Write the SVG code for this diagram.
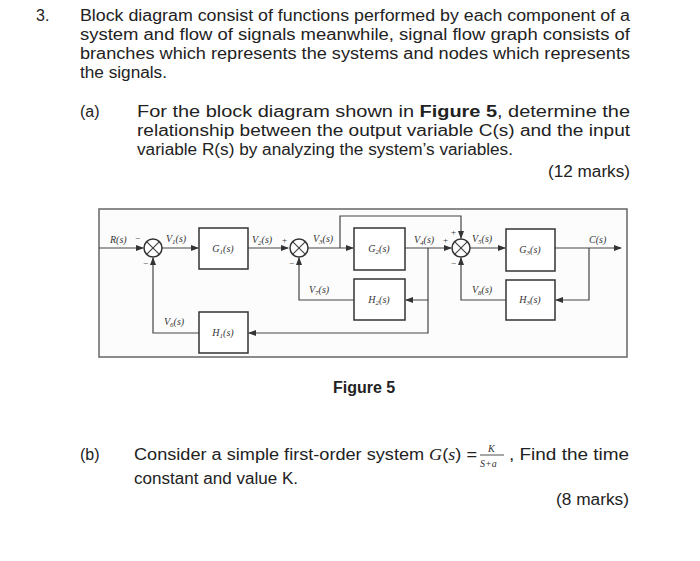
<svg xmlns="http://www.w3.org/2000/svg" width="700" height="561" viewBox="0 0 700 561">
<defs>
<marker id="ar" markerWidth="8" markerHeight="6" refX="7" refY="3" orient="auto" markerUnits="userSpaceOnUse"><path d="M0,0 L8,3 L0,6 Z" fill="#333"/></marker>
<style>
.t{font-family:"Liberation Sans",Arial,sans-serif;font-size:16px;fill:#222}
.b{font-weight:bold}
.l{font-family:"Liberation Serif","Times New Roman",serif;font-style:italic;font-size:10px;fill:#333}
.s{font-family:"Liberation Serif",serif;font-size:9px;fill:#333}
.box{fill:#fff;stroke:#333;stroke-width:1.5}
.w{fill:none;stroke:#444;stroke-width:1.2}
.sum{fill:#fff;stroke:#333;stroke-width:1.5}
</style>
</defs>
<rect width="700" height="561" fill="#fff"/>
<g id="text">
<text class="t" x="36" y="21">3.</text>
<text class="t" x="80" y="21" textLength="550" lengthAdjust="spacingAndGlyphs">Block diagram consist of functions performed by each component of a</text>
<text class="t" x="80" y="40" textLength="550" lengthAdjust="spacingAndGlyphs">system and flow of signals meanwhile, signal flow graph consists of</text>
<text class="t" x="80" y="59" textLength="550" lengthAdjust="spacingAndGlyphs">branches which represents the systems and nodes which represents</text>
<text class="t" x="80" y="78" textLength="87" lengthAdjust="spacingAndGlyphs">the signals.</text>
<text class="t" x="80" y="117">(a)</text>
<text class="t" x="137" y="117" textLength="493" lengthAdjust="spacingAndGlyphs">For the block diagram shown in <tspan class="b">Figure 5</tspan>, determine the</text>
<text class="t" x="137" y="136" textLength="493" lengthAdjust="spacingAndGlyphs">relationship between the output variable C(s) and the input</text>
<text class="t" x="137" y="155" textLength="376" lengthAdjust="spacingAndGlyphs">variable R(s) by analyzing the system’s variables.</text>
<text class="t" x="548" y="177" textLength="82" lengthAdjust="spacingAndGlyphs">(12 marks)</text>
<text class="t b" x="333" y="393">Figure 5</text>
<text class="t" x="80" y="460">(b)</text>
<text class="t" x="134" y="460" textLength="343" lengthAdjust="spacingAndGlyphs">Consider a simple first-order system <tspan font-family="Liberation Serif" font-style="italic">G</tspan>(<tspan font-family="Liberation Serif" font-style="italic">s</tspan>) =</text>
<text class="l" x="488" y="452" font-size="10">K</text>
<line x1="480" y1="455" x2="504" y2="455" stroke="#222" stroke-width="0.8"/>
<text class="l" x="480" y="467" font-size="10">S+a</text>
<text class="t" x="509" y="460" textLength="120" lengthAdjust="spacingAndGlyphs">, Find the time</text>
<text class="t" x="134" y="484" textLength="164" lengthAdjust="spacingAndGlyphs">constant and value K.</text>
<text class="t" x="556" y="505" textLength="73" lengthAdjust="spacingAndGlyphs">(8 marks)</text>
</g>
<rect x="99" y="209" width="528" height="148" fill="#fcfcfc" stroke="#666" stroke-width="1.5"/>
<g id="connectors">
<line class="w" x1="99" y1="248" x2="143" y2="248" marker-end="url(#ar)"/>
<line class="w" x1="162" y1="248" x2="198" y2="248" marker-end="url(#ar)"/>
<line class="w" x1="248" y1="248" x2="288" y2="248" marker-end="url(#ar)"/>
<line class="w" x1="307" y1="248" x2="353" y2="248" marker-end="url(#ar)"/>
<polyline class="w" points="340,248 340,216 461,216 461,238" marker-end="url(#ar)"/>
<line class="w" x1="405" y1="248" x2="451" y2="248" marker-end="url(#ar)"/>
<line class="w" x1="470" y1="248" x2="505" y2="248" marker-end="url(#ar)"/>
<line class="w" x1="555" y1="248" x2="621" y2="248" marker-end="url(#ar)"/>
<polyline class="w" points="428,248 428,300 406,300" marker-end="url(#ar)"/>
<polyline class="w" points="428,300 428,333 249,333" marker-end="url(#ar)"/>
<polyline class="w" points="354,300 299,300 299,258" marker-end="url(#ar)"/>
<polyline class="w" points="199,333 153,333 153,258" marker-end="url(#ar)"/>
<polyline class="w" points="589,248 589,300 556,300" marker-end="url(#ar)"/>
<polyline class="w" points="506,300 461,300 461,258" marker-end="url(#ar)"/>
</g>
<g id="sum1"><circle class="sum" cx="153" cy="248" r="9"/><path class="w" d="M146.6,241.6 L159.4,254.4 M159.4,241.6 L146.6,254.4"/></g>
<g id="sum2"><circle class="sum" cx="299" cy="248" r="9"/><path class="w" d="M292.6,241.6 L305.4,254.4 M305.4,241.6 L292.6,254.4"/></g>
<g id="sum3"><circle class="sum" cx="461" cy="248" r="9"/><path class="w" d="M454.6,241.6 L467.4,254.4 M467.4,241.6 L454.6,254.4"/></g>
<g id="G1"><rect class="box" x="199" y="228" width="49" height="41"/><text class="l" x="223" y="252" text-anchor="middle">G<tspan font-size="7" dy="2">1</tspan><tspan dy="-2">(s)</tspan></text></g>
<g id="G2"><rect class="box" x="354" y="228" width="51" height="42"/><text class="l" x="379" y="252" text-anchor="middle">G<tspan font-size="7" dy="2">2</tspan><tspan dy="-2">(s)</tspan></text></g>
<g id="G3"><rect class="box" x="506" y="229" width="49" height="42"/><text class="l" x="530" y="253" text-anchor="middle">G<tspan font-size="7" dy="2">3</tspan><tspan dy="-2">(s)</tspan></text></g>
<g id="H2"><rect class="box" x="354" y="279" width="51" height="41"/><text class="l" x="379" y="303" text-anchor="middle">H<tspan font-size="7" dy="2">2</tspan><tspan dy="-2">(s)</tspan></text></g>
<g id="H3"><rect class="box" x="506" y="280" width="49" height="40"/><text class="l" x="530" y="303" text-anchor="middle">H<tspan font-size="7" dy="2">3</tspan><tspan dy="-2">(s)</tspan></text></g>
<g id="H1"><rect class="box" x="199" y="312" width="49" height="41"/><text class="l" x="223" y="336" text-anchor="middle">H<tspan font-size="7" dy="2">1</tspan><tspan dy="-2">(s)</tspan></text></g>
<g id="labels">
<text class="l" x="110" y="243">R(s)</text><text class="s" x="135" y="241">−</text><text class="s" x="143" y="266">−</text>
<text class="l" x="166" y="242">V<tspan font-size="7" dy="2">1</tspan><tspan dy="-2">(s)</tspan></text>
<text class="l" x="252" y="243">V<tspan font-size="7" dy="2">2</tspan><tspan dy="-2">(s)</tspan></text><text class="s" x="282" y="243">+</text><text class="s" x="289" y="266">−</text>
<text class="l" x="313" y="242">V<tspan font-size="7" dy="2">3</tspan><tspan dy="-2">(s)</tspan></text>
<text class="l" x="309" y="293">V<tspan font-size="7" dy="2">7</tspan><tspan dy="-2">(s)</tspan></text>
<text class="l" x="164" y="325">V<tspan font-size="7" dy="2">6</tspan><tspan dy="-2">(s)</tspan></text>
<text class="l" x="414" y="243">V<tspan font-size="7" dy="2">4</tspan><tspan dy="-2">(s)</tspan></text><text class="s" x="443" y="243">+</text><text class="s" x="451" y="235">+</text><text class="s" x="451" y="266">−</text>
<text class="l" x="472" y="242">V<tspan font-size="7" dy="2">5</tspan><tspan dy="-2">(s)</tspan></text>
<text class="l" x="472" y="293">V<tspan font-size="7" dy="2">8</tspan><tspan dy="-2">(s)</tspan></text>
<text class="l" x="589" y="243">C(s)</text>
</g>
</svg>
